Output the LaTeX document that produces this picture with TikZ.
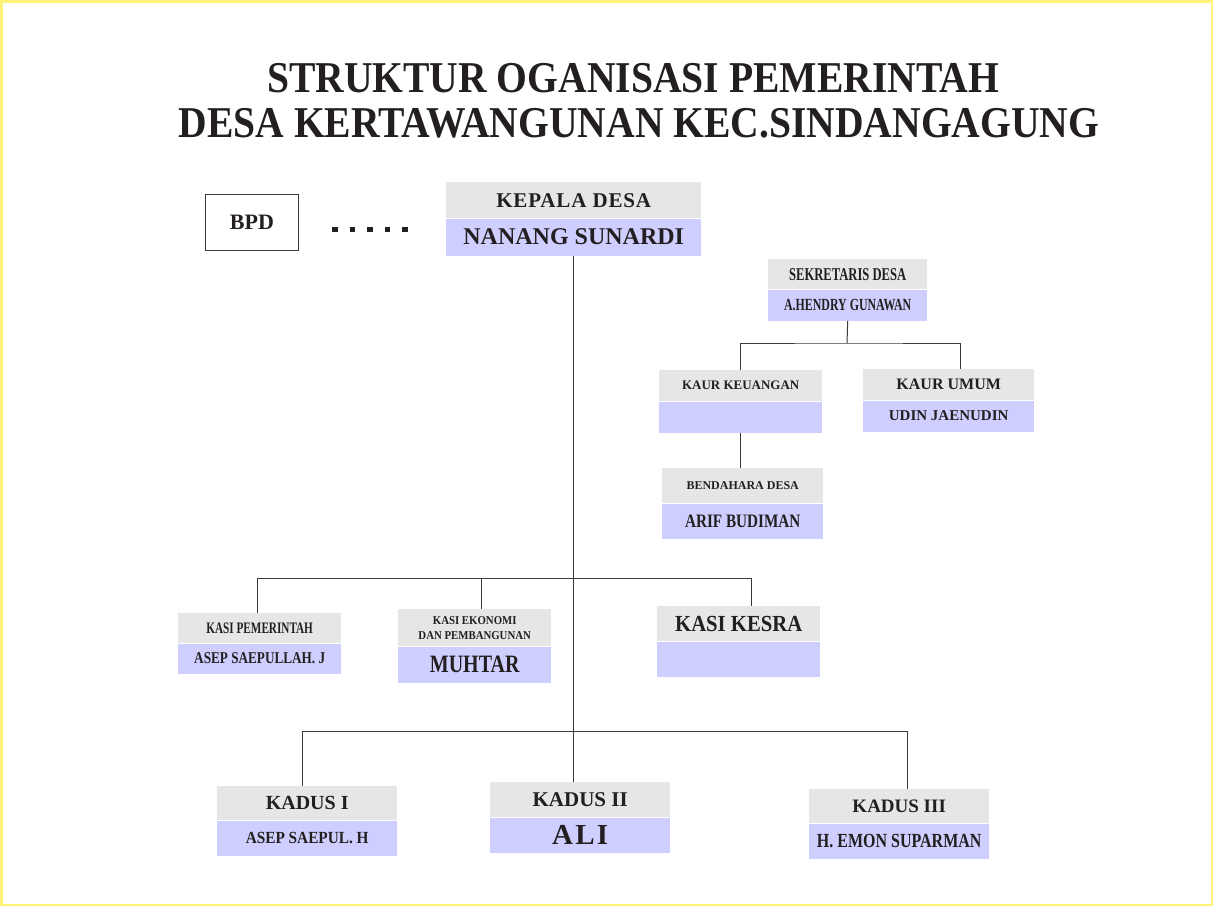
\documentclass[tikz,border=0pt]{standalone}
\usepackage{fontspec}
\setmainfont{Liberation Serif}
\newfontfamily\sempit[FakeStretch=0.7]{Liberation Serif}
\newfontfamily\agaksempit[FakeStretch=0.8]{Liberation Serif}
\newfontfamily\sedikitsempit[FakeStretch=0.9]{Liberation Serif}
\usetikzlibrary{positioning}

\definecolor{tinta}{HTML}{231F20}
\definecolor{abu}{HTML}{E6E6E6}
\definecolor{ungu}{HTML}{CFCFFF}
\definecolor{kuning}{HTML}{FFF37A}
\definecolor{garisabu}{HTML}{3A3A3A}

\begin{document}
\begin{tikzpicture}[x=1pt,y=-1pt,
  jabatan/.style={fill=abu, inner sep=0pt, text=tinta, anchor=north west, align=center},
  nama/.style={fill=ungu, inner sep=0pt, text=tinta, align=center},
  garis/.style={draw=garisabu, line width=1pt}]
\useasboundingbox (0,0) rectangle (1213,906);
\draw[kuning, line width=2.5pt] (1.25,1.25) rectangle (1211.75,904.75);

%Judul
\node (judul1) [anchor=base, text=tinta, font=\sedikitsempit\bfseries\fontsize{44}{45}\selectfont] at (633,92) {STRUKTUR OGANISASI PEMERINTAH};
\node (judul2) [anchor=base, text=tinta, font=\sedikitsempit\bfseries\fontsize{44}{45}\selectfont] at (639,137) {DESA KERTAWANGUNAN KEC.SINDANGAGUNG};

%Kotak
\node (bpd) [jabatan, fill=white, draw=garisabu, line width=0.8pt, minimum width=93, minimum height=56, font=\bfseries\fontsize{22}{24}\selectfont] at (205,194) {BPD};
\foreach \x in {335,352.5,...,405} \fill[tinta] (\x-2.7,226.5) rectangle ++(5.5,5.5);

\node (kades) [jabatan, minimum width=255, minimum height=36, font=\bfseries\fontsize{21}{23}\selectfont\addfontfeature{LetterSpace=4}] at (446,182) {KEPALA DESA};
\node (kadesN) [nama, below=0pt of kades, minimum width=255, minimum height=37, font=\bfseries\fontsize{24}{26}\selectfont] {NANANG SUNARDI};

\node (sek) [jabatan, minimum width=159, minimum height=30, font=\sempit\bfseries\fontsize{18}{20}\selectfont] at (768,259) {SEKRETARIS DESA};
\node (sekN) [nama, below=0pt of sek, minimum width=159, minimum height=31, font=\sempit\bfseries\fontsize{17}{19}\selectfont] {A.HENDRY GUNAWAN};

\node (kaurKeu) [jabatan, minimum width=163, minimum height=31, font=\bfseries\fontsize{13}{15}\selectfont] at (659,370) {KAUR KEUANGAN};
\node (kaurKeuN) [nama, below=0pt of kaurKeu, minimum width=163, minimum height=31] {};

\node (kaurUmum) [jabatan, minimum width=171, minimum height=31, font=\bfseries\fontsize{16}{18}\selectfont] at (863,369) {KAUR UMUM};
\node (kaurUmumN) [nama, below=0pt of kaurUmum, minimum width=171, minimum height=31, font=\bfseries\fontsize{15}{17}\selectfont] {UDIN JAENUDIN};

\node (benda) [jabatan, minimum width=161, minimum height=35, font=\bfseries\fontsize{12}{14}\selectfont] at (662,468) {BENDAHARA DESA};
\node (bendaN) [nama, below=0pt of benda, minimum width=161, minimum height=35, font=\agaksempit\bfseries\fontsize{19}{21}\selectfont] {ARIF BUDIMAN};

\node (kasiPem) [jabatan, minimum width=163, minimum height=30, font=\sempit\bfseries\fontsize{16}{18}\selectfont] at (178,613) {KASI PEMERINTAH};
\node (kasiPemN) [nama, below=0pt of kasiPem, minimum width=163, minimum height=30, font=\agaksempit\bfseries\fontsize{16.5}{18}\selectfont] {ASEP SAEPULLAH. J};

\node (kasiEko) [jabatan, minimum width=153, minimum height=37, font=\sedikitsempit\bfseries\fontsize{12}{15}\selectfont] at (398,609) {KASI EKONOMI\\DAN PEMBANGUNAN};
\node (kasiEkoN) [nama, below=0pt of kasiEko, minimum width=153, minimum height=36, font=\agaksempit\bfseries\fontsize{25}{27}\selectfont] {MUHTAR};

\node (kasiKesra) [jabatan, minimum width=163, minimum height=35, font=\sedikitsempit\bfseries\fontsize{23}{25}\selectfont] at (657,606) {KASI KESRA};
\node (kasiKesraN) [nama, below=0pt of kasiKesra, minimum width=163, minimum height=35] {};

\node (kadus1) [jabatan, minimum width=180, minimum height=34, font=\bfseries\fontsize{20}{22}\selectfont] at (217,786) {KADUS I};
\node (kadus1N) [nama, below=0pt of kadus1, minimum width=180, minimum height=35, font=\sedikitsempit\bfseries\fontsize{17}{19}\selectfont] {ASEP SAEPUL. H};

\node (kadus2) [jabatan, minimum width=180, minimum height=35, font=\bfseries\fontsize{21}{23}\selectfont] at (490,782) {KADUS II};
\node (kadus2N) [nama, below=0pt of kadus2, minimum width=180, minimum height=35, font=\bfseries\fontsize{29}{31}\selectfont\addfontfeature{LetterSpace=8}] {ALI};

\node (kadus3) [jabatan, minimum width=180, minimum height=34, font=\bfseries\fontsize{19}{21}\selectfont] at (809,789) {KADUS III};
\node (kadus3N) [nama, below=0pt of kadus3, minimum width=180, minimum height=35, font=\agaksempit\bfseries\fontsize{20}{22}\selectfont] {H. EMON SUPARMAN};

%Garis
\coordinate (simpulSek) at (847,343);
\coordinate (simpulKasi) at (573,578);
\coordinate (simpulKadus) at (573,731);

\draw[garis] (kadesN.south) -- (kadesN.south |- kadus2.north);

\draw[garis] (sekN.south) -- (simpulSek);
\draw[garis] (kaurKeu.north) |- (simpulSek) -| ([xshift=11.5pt]kaurUmum.north);
\draw[garis] (kaurKeuN.south) -- (kaurKeuN.south |- benda.north);

\draw[garis] ([xshift=-2.5pt]kasiPem.north) |- (simpulKasi) -| ([xshift=12.5pt]kasiKesra.north);
\draw[garis] ([xshift=6.5pt]kasiEko.north) |- (simpulKasi);

\draw[garis] ([xshift=-5pt]kadus1.north) |- (simpulKadus) -| ([xshift=8pt]kadus3.north);
\end{tikzpicture}
\end{document}
